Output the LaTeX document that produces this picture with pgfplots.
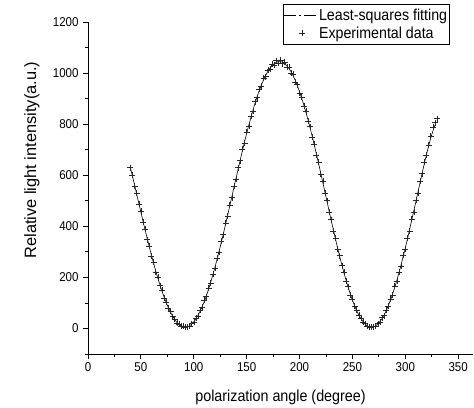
\documentclass[border=0pt]{standalone}
\usepackage{fontspec}
\setmainfont{Liberation Sans}[FakeStretch=0.9]
\newfontfamily\vfont{Liberation Sans}
\usepackage{pgfplots}
\usepackage{pgfplotstable}
\pgfplotsset{compat=1.18}
\pgfplotsset{
  fitlegend/.style={legend image code/.code={\draw[black, line width=0.6pt,
    dash pattern=on 12bp off 3bp on 1.5bp off 3bp] (0bp,0bp) -- (33bp,0bp);}},
  marklegend/.style={legend image code/.code={\draw[mark repeat=2, mark phase=2, ##1]
    plot coordinates {(0bp,0bp) (18bp,0bp) (33bp,0bp)};}},
}

\pgfplotstableread{
x fit data
40 632 630
42 597 601
44 562 558
46 526 529
48 491 487
50 456 460
52 420 417
54 386 389
56 352 348
58 319 322
60 287 284
62 256 259
64 226 222
66 197 200
68 171 168
70 146 150
72 122 119
74 101 104
76 81 79
78 64 67
80 48 46
82 35 38
84 24 22
86 16 18
88 10 9
90 6 8
92 5 4
94 6 7
96 10 9
98 17 19
100 26 24
102 37 40
104 51 48
106 67 71
108 86 83
110 106 110
112 129 125
114 154 158
116 181 177
118 209 213
120 239 236
122 270 274
124 303 299
126 337 341
128 371 367
130 407 411
132 443 439
134 479 484
136 516 512
138 553 557
140 589 585
142 625 630
144 661 657
146 696 701
148 730 726
150 764 769
152 796 791
154 826 831
156 855 851
158 883 888
160 909 904
162 932 938
164 954 949
166 974 980
168 991 986
170 1006 1012
172 1019 1014
174 1029 1036
176 1037 1031
178 1042 1049
180 1045 1040
182 1045 1052
184 1042 1037
186 1037 1044
188 1028 1022
190 1018 1024
192 1005 1000
194 989 995
196 971 966
198 950 955
200 927 922
202 902 907
204 876 871
206 847 852
208 817 813
210 785 790
212 752 748
214 717 722
216 682 678
218 646 651
220 609 605
222 572 576
224 534 530
226 497 501
228 459 455
230 422 426
232 386 382
234 350 354
236 315 311
238 281 285
240 249 246
242 218 221
244 188 185
246 161 164
248 135 132
250 111 114
252 89 87
254 70 72
256 53 51
258 39 41
260 27 25
262 17 19
264 10 9
266 6 7
268 5 4
270 6 7
272 10 9
274 17 19
276 27 25
278 39 42
280 53 50
282 70 73
284 90 87
286 111 114
288 135 132
290 161 165
292 188 184
294 218 222
296 249 245
298 282 286
300 315 311
302 350 354
304 386 382
306 423 428
308 460 456
310 497 502
312 535 531
314 572 577
316 610 606
318 646 651
320 681 679
322 714 719
324 745 752
326 772 788
328 797 806
330 nan 822
}\mydata

\begin{document}
\begin{tikzpicture}
\useasboundingbox (-88bp,-54bp) rectangle (386bp,354bp);
\begin{axis}[
  at={(0,0)}, anchor=south west,
  scale only axis, width=385bp, height=332bp,
  xmin=0, xmax=364, ymin=-100, ymax=1200,
  axis lines=left,
  axis line style={-, line width=0.8pt, black},
  xtick={0,50,...,350}, minor xtick={25,75,...,325},
  ytick={0,200,...,1200}, minor ytick={-100,100,...,1100},
  tick align=outside,
  major tick length=5bp, minor tick length=3bp,
  tick style={line width=0.8pt, black},
  scaled ticks=false,
  /pgf/number format/assume math mode=true,
  /pgf/number format/1000 sep={},
  ticklabel style={font=\fontsize{12.8bp}{14bp}\selectfont},
  yticklabel style={xshift=-1bp},
  xlabel={polarization angle (degree)},
  ylabel={Relative light intensity(a.u.)},
  xlabel style={at={(rel axis cs:0.5,0)}, anchor=center, yshift=-43bp,
    font=\fontsize{15.9bp}{18bp}\selectfont},
  ylabel style={at={(rel axis cs:0,0.584)}, anchor=center, yshift=56bp,
    font=\vfont\fontsize{16.4bp}{18bp}\selectfont},
  legend style={at={(0.94,1.054)}, anchor=north east, draw=black,
    line width=0.6pt, inner xsep=1bp, inner ysep=3bp,
    font=\fontsize{15.8bp}{17bp}\selectfont,
    nodes={inner sep=1.5bp}, row sep=2bp,
    /tikz/every even column/.append style={column sep=3bp}},
  legend cell align=left,
  unbounded coords=discard,
]
\addplot[black, line width=0.6pt, no markers, fitlegend]
  table[x=x, y=fit] {\mydata};
\addlegendentry{Least-squares fitting}
\addplot[black!85, only marks, mark=+, mark size=3bp,
  mark options={line width=0.5pt}, marklegend]
  table[x=x, y=data] {\mydata};
\addlegendentry{Experimental data}
\end{axis}
\end{tikzpicture}
\end{document}
